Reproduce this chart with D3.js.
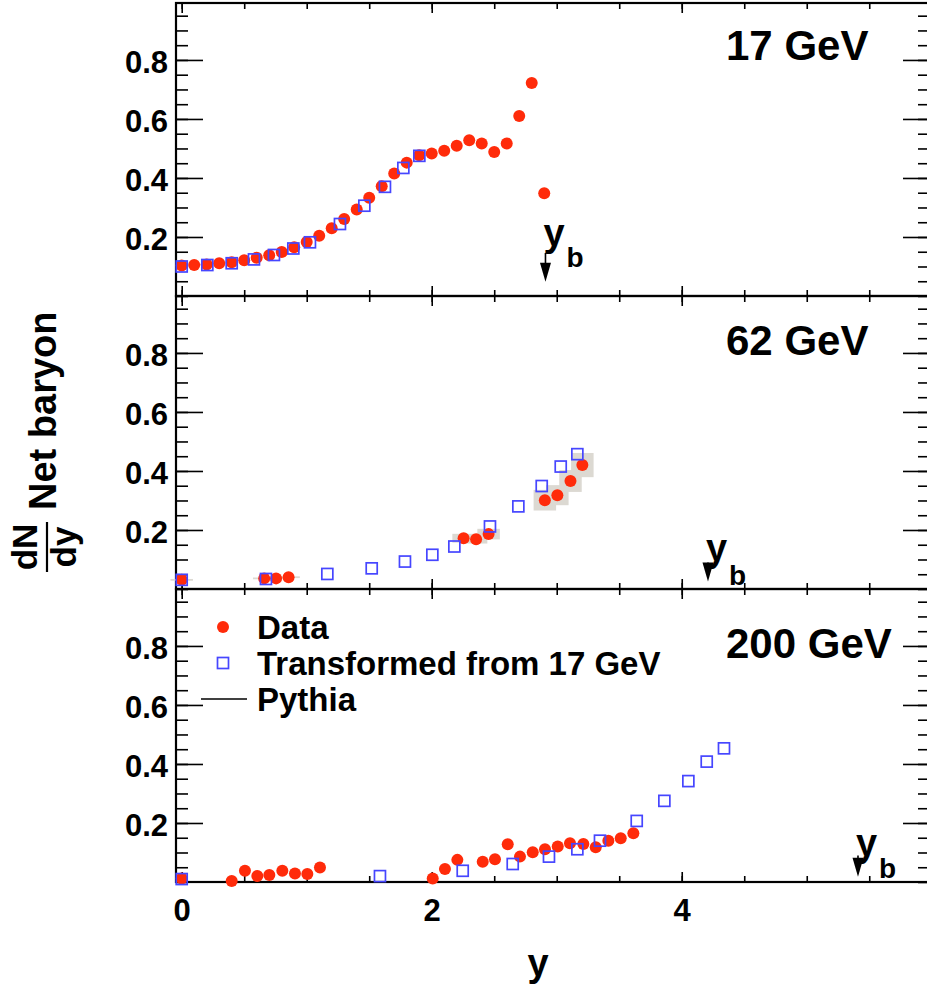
<!DOCTYPE html>
<html>
<head>
<meta charset="utf-8">
<script src="https://cdn.jsdelivr.net/npm/d3@7"></script>
<style>
  body { margin: 0; background: #fff; }
  text { font-family: "Liberation Sans", Arial, Helvetica, sans-serif; font-weight: bold; fill: #000; }
</style>
</head>
<body>
<svg id="chart" width="927" height="990"></svg>
<script>
// Net-baryon dN/dy vs rapidity, three energies

// panel labels and beam rapidity
var energies = ['17 GeV', '62 GeV', '200 GeV'];
var beamY = [2.91, 4.21, 5.41];

// axis ticks
var xTickLabels = [0, 2, 4];
var yTickLabels = [0.2, 0.4, 0.6, 0.8];

// 17 GeV : data [y, dN/dy]
var data17 = [
  [0.0,0.103],[0.1,0.105],[0.2,0.107],[0.3,0.111],[0.4,0.114],[0.5,0.121],
  [0.6,0.130],[0.7,0.138],[0.8,0.149],[0.9,0.165],[1.0,0.183],[1.1,0.204],
  [1.2,0.230],[1.3,0.261],[1.4,0.293],[1.5,0.333],[1.6,0.372],[1.7,0.415],
  [1.8,0.452],[1.9,0.477],[2.0,0.483],[2.1,0.492],[2.2,0.509],[2.3,0.528],
  [2.4,0.517],[2.5,0.488],[2.6,0.517],[2.7,0.610],[2.8,0.722],[2.9,0.348]
];
var trans17 = [
  [0.0,0.100],[0.205,0.105],[0.4,0.111],[0.578,0.124],[0.738,0.139],[0.893,0.161],
  [1.026,0.182],[1.266,0.244],[1.461,0.306],[1.626,0.370],[1.773,0.434],[1.901,0.475]
];

// 62 GeV : data [y, dN/dy, sys]
var data62 = [
  [0.0,0.031,0.003],[0.66,0.036,0.003],[0.755,0.036,0.003],[0.855,0.040,0.003],
  [2.255,0.172,0.015],[2.355,0.169,0.015],[2.455,0.186,0.018],
  [2.905,0.301,0.035],[3.005,0.318,0.034],[3.11,0.366,0.037],[3.205,0.420,0.041]
];
var trans62 = [
  [0.0,0.031],[0.674,0.034],[1.165,0.051],[1.52,0.070],[1.786,0.093],[2.005,0.116],
  [2.181,0.144],[2.466,0.212],[2.693,0.280],[2.88,0.349],[3.032,0.415],[3.165,0.457]
];

// 200 GeV
var data200 = [
  [0.0,0.012],[0.4,0.003],[0.506,0.038],[0.605,0.020],[0.701,0.024],[0.805,0.038],
  [0.906,0.029],[1.005,0.027],[1.106,0.049],[2.008,0.012],[2.106,0.044],[2.205,0.075],
  [2.408,0.069],[2.506,0.077],[2.608,0.128],[2.706,0.086],[2.808,0.101],[2.906,0.111],
  [3.008,0.120],[3.106,0.131],[3.213,0.129],[3.312,0.118],[3.413,0.140],[3.512,0.148],
  [3.613,0.165]
];
var trans200 = [
  [0.0,0.010],[1.586,0.020],[2.248,0.038],[2.648,0.061],[2.938,0.086],[3.165,0.111],
  [3.346,0.140],[3.64,0.207],[3.861,0.275],[4.053,0.342],[4.2,0.408],[4.338,0.453]
];

var dataSets = [data17, data62, data200];
var transSets = [trans17, trans62, trans200];

var red = '#ff2b0a', blue = '#4646ff', boxGrey = '#dcd9d2';

var svg = d3.select('#chart');
var left = 176, right = 930, panelH = 293;
var panelTops = [3, 296, 589];

var x = d3.scaleLinear().domain([-0.0456, 5.986]).range([left, right]);
var xMinor = d3.range(0, 6, 0.5);

// label baselines / arrow placement per panel (px offsets from panel top)
var titleDy = [57, 59, 69];
var arrowFrom = [0.146, 0.09, 0.09], arrowTo = [0.048, 0.025, 0.018];
var ybDy = [243, 265, 267], bDy = [264, 289, 289];

panelTops.forEach(function(top, i) {
  var y = d3.scaleLinear().domain([0, 0.993]).range([top + panelH, top]);
  var g = svg.append('g');
  var bottom = top + panelH;

  // y ticks, left and right
  var yMinor = d3.range(0, 0.99, 0.05);
  g.append('g').attr('transform', 'translate(' + left + ',0)')
    .call(d3.axisRight(y).tickValues(yMinor).tickSize(12).tickFormat(''));
  g.append('g').attr('transform', 'translate(' + left + ',0)')
    .call(d3.axisRight(y).tickValues(yTickLabels).tickSize(27).tickFormat(''));
  g.append('g').attr('transform', 'translate(' + right + ',0)')
    .call(d3.axisLeft(y).tickValues(yMinor).tickSize(12).tickFormat(''));
  g.append('g').attr('transform', 'translate(' + right + ',0)')
    .call(d3.axisLeft(y).tickValues(yTickLabels).tickSize(27).tickFormat(''));

  var lab = g.append('g').attr('transform', 'translate(' + left + ',0)')
    .call(d3.axisLeft(y).tickValues(yTickLabels).tickSize(0).tickPadding(8).tickFormat(d3.format('.1f')));
  lab.selectAll('text').style('font-size', '31px').attr('dy', '0.40em');

  // x ticks, top and bottom
  g.append('g').attr('transform', 'translate(0,' + bottom + ')')
    .call(d3.axisTop(x).tickValues(xMinor).tickSize(6).tickFormat(''));
  g.append('g').attr('transform', 'translate(0,' + bottom + ')')
    .call(d3.axisTop(x).tickValues([0, 2, 4]).tickSize(10).tickFormat(''));
  g.append('g').attr('transform', 'translate(0,' + top + ')')
    .call(d3.axisBottom(x).tickValues(xMinor).tickSize(6).tickFormat(''));
  g.append('g').attr('transform', 'translate(0,' + top + ')')
    .call(d3.axisBottom(x).tickValues([0, 2, 4]).tickSize(10).tickFormat(''));

  g.selectAll('.domain').remove();
  g.selectAll('.tick line').attr('stroke', '#000').attr('stroke-width', 1.6);

  // frame
  g.append('rect').attr('x', left).attr('y', top)
    .attr('width', right - left).attr('height', panelH)
    .attr('fill', 'none').attr('stroke', '#000').attr('stroke-width', 2.2);

  // systematic boxes
  var pts = dataSets[i];
  g.selectAll('rect.sys').data(pts.filter(function(d) { return d.length > 2; }))
    .enter().append('rect').attr('class', 'sys')
    .attr('x', function(d) { return x(d[0] - 0.09); })
    .attr('width', function(d) { return x(d[0] + 0.09) - x(d[0] - 0.09); })
    .attr('y', function(d) { return y(d[1] + d[2]); })
    .attr('height', function(d) { return Math.max(1.5, y(d[1] - d[2]) - y(d[1] + d[2])); })
    .attr('fill', boxGrey);

  // data points
  g.selectAll('circle.dat').data(pts).enter().append('circle').attr('class', 'dat')
    .attr('cx', function(d) { return x(d[0]); })
    .attr('cy', function(d) { return y(d[1]); })
    .attr('r', 6).attr('fill', red);

  // transformed points
  var s = 11;
  g.selectAll('rect.tr').data(transSets[i]).enter().append('rect').attr('class', 'tr')
    .attr('x', function(d) { return x(d[0]) - s / 2; })
    .attr('y', function(d) { return y(d[1]) - s / 2; })
    .attr('width', s).attr('height', s)
    .attr('fill', 'none').attr('stroke', blue).attr('stroke-width', 1.7);

  // energy label
  g.append('text').attr('x', 726).attr('y', top + titleDy[i])
    .style('font-size', '42px').text(energies[i]);

  // beam rapidity arrow
  var xb = x(beamY[i]);
  var y0 = y(arrowFrom[i]), y1 = y(arrowTo[i]);
  g.append('line').attr('x1', xb).attr('x2', xb).attr('y1', y0).attr('y2', y1 - 14)
    .attr('stroke', '#000').attr('stroke-width', 1.6);
  g.append('path')
    .attr('d', 'M' + (xb - 5.5) + ',' + (y1 - 19) + 'L' + (xb + 5.5) + ',' + (y1 - 19) + 'L' + xb + ',' + y1 + 'Z')
    .attr('fill', '#000');
  g.append('text').attr('x', xb - 2).attr('y', top + ybDy[i])
    .style('font-size', '38px').text('y');
  g.append('text').attr('x', xb + 21).attr('y', top + bDy[i])
    .style('font-size', '28px').text('b');
});

// x tick labels on bottom panel
var xl = svg.append('g').attr('transform', 'translate(0,' + (panelTops[2] + panelH) + ')')
  .call(d3.axisBottom(x).tickValues(xTickLabels).tickSize(0).tickPadding(17).tickFormat(d3.format('d')));
xl.select('.domain').remove();
xl.selectAll('text').style('font-size', '31px');

// axis titles
svg.append('text').attr('x', 538).attr('y', 976).attr('text-anchor', 'middle')
  .style('font-size', '38px').text('y');

var yt = svg.append('g').attr('transform', 'translate(0,547) rotate(-90)');
yt.append('text').attr('x', 0).attr('y', 37).attr('text-anchor', 'middle')
  .style('font-size', '35px').text('dN');
yt.append('line').attr('x1', -25).attr('x2', 25).attr('y1', 47).attr('y2', 47)
  .attr('stroke', '#000').attr('stroke-width', 2.2);
yt.append('text').attr('x', 0).attr('y', 76).attr('text-anchor', 'middle')
  .style('font-size', '35px').text('dy');
yt.append('text').attr('x', 37).attr('y', 56)
  .style('font-size', '38px').text('Net baryon');

// legend
var lg = svg.append('g');
var legendRows = [
  {label: 'Data', kind: 'circle'},
  {label: 'Transformed from 17 GeV', kind: 'square'},
  {label: 'Pythia', kind: 'line'}
];
legendRows.forEach(function(r, k) {
  var cy = 627 + k * 36;
  if (r.kind === 'circle') lg.append('circle').attr('cx', 223).attr('cy', cy).attr('r', 6).attr('fill', red);
  if (r.kind === 'square') lg.append('rect').attr('x', 217.5).attr('y', cy - 5.5).attr('width', 11).attr('height', 11)
    .attr('fill', 'none').attr('stroke', blue).attr('stroke-width', 1.7);
  if (r.kind === 'line') lg.append('line').attr('x1', 201).attr('x2', 247).attr('y1', cy).attr('y2', cy)
    .attr('stroke', '#000').attr('stroke-width', 1.6);
  lg.append('text').attr('x', 257).attr('y', cy + 12).style('font-size', '33px').text(r.label);
});
</script>
</body>
</html>
